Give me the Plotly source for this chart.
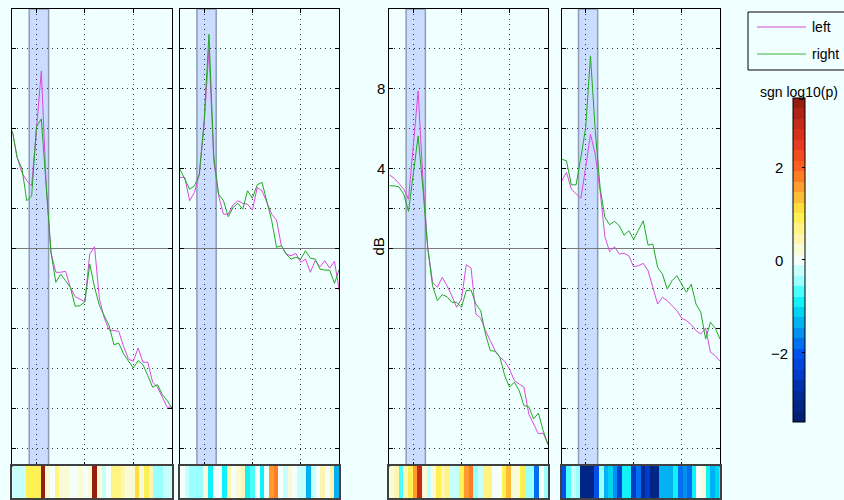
import numpy as np
import plotly.graph_objects as go

# ---------------- data ----------------
bins = list(range(34))

p1_left = [5.9, 4.57, 3.8, 3.4, 3.15, 6.07, 8.9, 3.2, -0.2, -1.18, -1.18, -1.13, -1.93, -2.4, -2.52, -2.65,
           -0.27, 0.1, -2.52, -3.47, -4.07, -4.1, -4.13, -4.9, -5.52, -5.63, -4.97, -5.68, -5.68, -6.68,
           -6.93, -7.43, -7.93, -7.93]
p1_right = [5.9, 4.57, 4.0, 2.4, 2.65, 6.1, 6.5, 3.0, -0.2, -1.68, -1.27, -1.6, -1.93, -2.88, -2.85, -2.65,
            -0.77, -1.93, -2.85, -3.35, -3.85, -4.8, -4.73, -5.27, -5.63, -5.97, -5.6, -5.8, -6.35, -6.93,
            -6.8, -7.3, -7.6, -7.98]
p2_left = [3.57, 3.57, 2.4, 2.82, 3.73, 6.23, 9.98, 4.4, 2.65, 1.73, 1.73, 2.2, 2.4, 2.27, 2.23, 1.93,
           3.07, 2.9, 2.32, 1.73, 1.43, 0.15, -0.27, -0.35, -0.23, -0.68, -0.52, -1.18, -0.6, -0.9,
           -0.6, -0.97, -0.63, -2.1]
p2_right = [3.98, 3.48, 2.98, 3.15, 3.73, 6.4, 10.73, 4.6, 2.73, 2.4, 1.6, 2.07, 2.27, 1.98, 2.9, 2.53,
            3.2, 3.32, 2.4, 1.4, 0.07, 0.15, -0.27, -0.52, -0.43, -0.52, -0.1, -0.47, -0.52, -1.02,
            -1.07, -1.07, -1.73, -1.02]
p3_left = [3.7, 3.53, 3.27, 2.98, 2.48, 5.4, 7.9, 3.4, 0.07, -1.68, -1.93, -1.43, -1.85, -2.35, -2.93, -2.52,
           -0.8, -0.97, -3.27, -3.47, -4.1, -4.6, -5.1, -5.43, -5.63, -6.02, -6.6, -6.77, -6.93, -8.27,
           -8.73, -9.27, -9.23, -9.8]
p3_right = [3.15, 3.15, 3.1, 2.73, 1.87, 3.73, 5.65, 3.0, -0.02, -1.85, -2.6, -2.3, -2.4, -2.68, -2.68, -2.93,
            -2.1, -2.07, -2.77, -3.1, -4.27, -5.1, -5.13, -5.43, -6.35, -6.93, -6.68, -7.1, -7.85, -7.9,
            -8.52, -8.23, -9.1, -9.8]
p4_left = [3.4, 3.82, 2.98, 2.73, 2.53, 4.07, 5.73, 4.73, 2.9, 0.6, -0.15, 0.1, -0.27, -0.23, -0.35, -0.9,
           -0.85, -0.73, -1.1, -1.93, -2.77, -2.43, -2.6, -2.85, -3.1, -3.47, -3.6, -3.8, -4.1, -4.27,
           -3.97, -5.18, -5.35, -5.63]
p4_right = [4.48, 4.4, 3.2, 3.2, 4.57, 6.07, 9.65, 5.9, 3.07, 1.57, 1.2, 1.37, 1.15, 0.68, 0.9, 0.47,
            0.93, 1.4, 0.18, 0.23, -0.93, -1.27, -2.02, -1.6, -1.35, -1.77, -2.18, -1.77, -2.77, -3.18,
            -4.52, -3.68, -3.97, -4.52]

# signed log10(p) per frequency bin
p1_sig = [-0.15, -0.15, -0.3, 1.0, 1.0, 1.0, 3.3, 0.2, 0.1, 0.7, 0.15, 0.2, 0.0, -0.1, 0.25, -0.05,
          0.2, 3.3, 0.2, -0.15, -0.05, 0.7, 0.7, 0.5, 0.3, 0.15, 1.1, 0.2, 0.9, 0.4, -0.55, -0.55, -0.2, -0.25]
p2_sig = [-0.05, -0.2, -0.5, -0.5, -0.45, 0.2, -0.95, 0.0, 0.0, -0.9, 0.35, 0.05, 0.25, 0.35, -0.9, -0.7,
          0.0, -0.9, 0.0, 1.6, 1.9, 0.05, -0.15, 0.15, 0.05, -0.25, -0.25, -1.3, -0.2, 0.0, 0.35, 0.1, 0.35, -1.3]
p3_sig = [0.3, 0.35, -0.75, 0.5, 1.0, 1.5, 3.0, 0.2, -0.2, 0.25, 0.9, 0.4, 0.65, -0.2, -0.3, 0.9,
          1.55, 1.85, -0.5, -0.2, 0.65, 0.6, 0.0, 0.0, 0.9, 1.4, 0.3, 0.3, 0.9, -0.5, -0.5, -1.75, -0.05, -0.35]
p4_sig = [-2.0, -0.6, -0.2, -0.35, -3.2, -3.1, -3.1, -2.1, -0.55, -1.4, -1.1, -1.6, -2.2, -1.0, -1.0, -2.4,
          -1.9, -3.0, -2.5, -3.2, -3.2, -1.3, -1.25, -1.25, -0.85, -1.7, -1.5, -1.9, -1.0, -0.05, 0.25, -1.0, -1.3, -1.15]

series_names = ["left", "right"]
band_bins = [3.5, 7.5]
y_ticks = [-10, -8, -6, -4, -2, 0, 2, 4, 6, 8, 10]
y_labels_shown = {4: "4", 8: "8"}
x_grid_bins = [5, 15, 25]
cbar_ticks = [-2, 0, 2]
cbar_labels = ["\u22122", "0", "2"]
zlim = [-3.5, 3.5]

panels_left = [p1_left, p2_left, p3_left, p4_left]
panels_right = [p1_right, p2_right, p3_right, p4_right]
panels_sig = [p1_sig, p2_sig, p3_sig, p4_sig]

# ---------------- style ----------------
W, H = 844, 500
BG = "#f0ffff"
FONT = "Liberation Sans, Arial, Helvetica, sans-serif"
MAG = "#dd48dd"
GRN = "#22a822"
LEG_MAG = "#d84ad8"
LEG_GRN = "#3cb83c"
panel_px = [(12.3, 172.0), (180.0, 339.3), (389.3, 548.0), (561.7, 720.0)]
plot_dom = [1 - 465.5 / H, 1 - 9 / H]
strip_dom = [1 - 498.3 / H, 1 - 466.0 / H]

# stepped colormap (blue - cyan - white - yellow - red)
anc_v = [-3.5, -3.0, -2.5, -2.0, -1.5, -1.0, -0.75, -0.5, 0.0, 0.5, 1.0, 1.5, 2.0, 2.5, 3.0, 3.5]
anc_c = ["#001e6e", "#00288f", "#003ac8", "#0052f0", "#009cf0", "#00e8f4", "#30ffff", "#90ffff",
         "#f4fffc", "#fff5a8", "#fff040", "#ffa830", "#ff6020", "#e83820", "#c02818", "#8a1a10"]


def hex2rgb(h):
    return [int(h[i:i + 2], 16) for i in (1, 3, 5)]


anc_rgb = np.array([hex2rgb(c) for c in anc_c], dtype=float)
nlev = 31
cs = []
for j in range(nlev):
    vc = zlim[0] + (j + 0.5) * (zlim[1] - zlim[0]) / nlev
    rgb = [int(round(np.interp(vc, anc_v, anc_rgb[:, k]))) for k in range(3)]
    col = "rgb(%d,%d,%d)" % tuple(rgb)
    cs.append([j / nlev, col])
    cs.append([(j + 1) / nlev, col])

fig = go.Figure()
layout = dict(
    width=W, height=H, autosize=False,
    margin=dict(l=0, r=0, t=0, b=0, pad=0),
    paper_bgcolor=BG, plot_bgcolor=BG,
    font=dict(family=FONT, size=14, color="black"),
    showlegend=False,
)
shapes = []
annotations = []

for k in range(4):
    n = k + 1
    xd = [panel_px[k][0] / W, panel_px[k][1] / W]
    xa = "xaxis" if n == 1 else "xaxis%d" % n
    ya = "yaxis" if n == 1 else "yaxis%d" % n
    layout[xa] = dict(domain=xd, anchor="y" if n == 1 else "y%d" % n, range=[0, 33],
                      tickvals=x_grid_bins, showticklabels=False, ticks="inside", ticklen=4,
                      tickcolor="black", showline=True, linecolor="black", linewidth=1, mirror="ticks",
                      showgrid=True, gridcolor="#303030", gridwidth=1, griddash="1px,4px",
                      zeroline=False, fixedrange=True)
    ticktext = [y_labels_shown.get(v, "") if k == 2 else "" for v in y_ticks]
    layout[ya] = dict(domain=plot_dom, anchor="x" if n == 1 else "x%d" % n, range=[-10.85, 12],
                      tickvals=y_ticks, ticktext=ticktext, showticklabels=(k == 2),
                      tickfont=dict(size=15), ticks="inside", ticklen=4, tickcolor="black",
                      showline=True, linecolor="black", linewidth=1, mirror="ticks",
                      showgrid=True, gridcolor="#303030", gridwidth=1, griddash="1px,4px",
                      zeroline=True, zerolinecolor="#7a7a7a", zerolinewidth=1.3, fixedrange=True)
    # strip axes
    m = k + 5
    layout["xaxis%d" % m] = dict(domain=xd, anchor="y%d" % m, range=[-0.5, 33.5], showticklabels=False,
                                 ticks="", showline=True, linecolor="#404040", linewidth=2, mirror=True,
                                 showgrid=False, zeroline=False, fixedrange=True)
    layout["yaxis%d" % m] = dict(domain=strip_dom, anchor="x%d" % m, range=[-0.5, 0.5], showticklabels=False,
                                 ticks="", showline=True, linecolor="#404040", linewidth=2, mirror=True,
                                 showgrid=False, zeroline=False, fixedrange=True)

    xr = "x" if n == 1 else "x%d" % n
    yr = "y" if n == 1 else "y%d" % n
    shapes.append(dict(type="rect", xref=xr, yref="%s domain" % yr, x0=band_bins[0], x1=band_bins[1],
                       y0=0, y1=1, fillcolor="#cadcff", line=dict(color="#8e9cb4", width=1.5),
                       layer="below"))

    fig.add_trace(go.Scatter(x=bins, y=panels_left[k], mode="lines", name=series_names[0],
                             line=dict(color=MAG, width=1), xaxis=xr, yaxis=yr))
    fig.add_trace(go.Scatter(x=bins, y=panels_right[k], mode="lines", name=series_names[1],
                             line=dict(color=GRN, width=1), xaxis=xr, yaxis=yr))
    hm = dict(z=[panels_sig[k]], x=bins, y=[0], colorscale=cs, zmin=zlim[0], zmax=zlim[1],
              xaxis="x%d" % m, yaxis="y%d" % m, showscale=(k == 3))
    if k == 3:
        hm["colorbar"] = dict(x=792.7 / W, xanchor="left", thickness=12, thicknessmode="pixels",
                              len=323.7 / H, lenmode="fraction", y=1 - 259.9 / H, yanchor="middle",
                              outlinecolor="black", outlinewidth=1, ticks="inside", ticklen=3,
                              tickcolor="black", tickvals=cbar_ticks, showticklabels=False,
                              xpad=0, ypad=0)
    fig.add_trace(go.Heatmap(**hm))

# legend box (boxed key in the top-right corner)
shapes.append(dict(type="rect", xref="paper", yref="paper", x0=748 / W, x1=860 / W,
                   y0=1 - 70 / H, y1=1 - 12 / H, fillcolor=BG, line=dict(color="black", width=1)))
for name, col, ypx in [(series_names[0], LEG_MAG, 27), (series_names[1], LEG_GRN, 54)]:
    shapes.append(dict(type="line", xref="paper", yref="paper", x0=757 / W, x1=806 / W,
                       y0=1 - ypx / H, y1=1 - ypx / H, line=dict(color=col, width=1.2)))
    annotations.append(dict(x=810 / W, y=1 - ypx / H, xref="paper", yref="paper", text=name,
                            showarrow=False, xanchor="left", yanchor="middle", font=dict(size=14)))

# colorbar labels & title
for v, t in zip(cbar_ticks, cbar_labels):
    ypx = 260.7 - v * 46.5
    annotations.append(dict(x=779 / W, y=1 - ypx / H, xref="paper", yref="paper", text=t, showarrow=False,
                            xanchor="center", yanchor="middle", font=dict(size=15)))
annotations.append(dict(x=798.5 / W, y=1 - 92 / H, xref="paper", yref="paper", text="sgn log10(p)",
                        showarrow=False, xanchor="center", yanchor="middle", font=dict(size=14)))
annotations.append(dict(x=377.5 / W, y=1 - 247 / H, xref="paper", yref="paper", text="dB", textangle=-90,
                        showarrow=False, xanchor="center", yanchor="middle", font=dict(size=15)))

layout["shapes"] = shapes
layout["annotations"] = annotations
fig.update_layout(**layout)
fig.write_html("out.html", config={"displayModeBar": False},
               post_script="document.body.style.margin='0';document.body.style.background='#f0ffff';")
